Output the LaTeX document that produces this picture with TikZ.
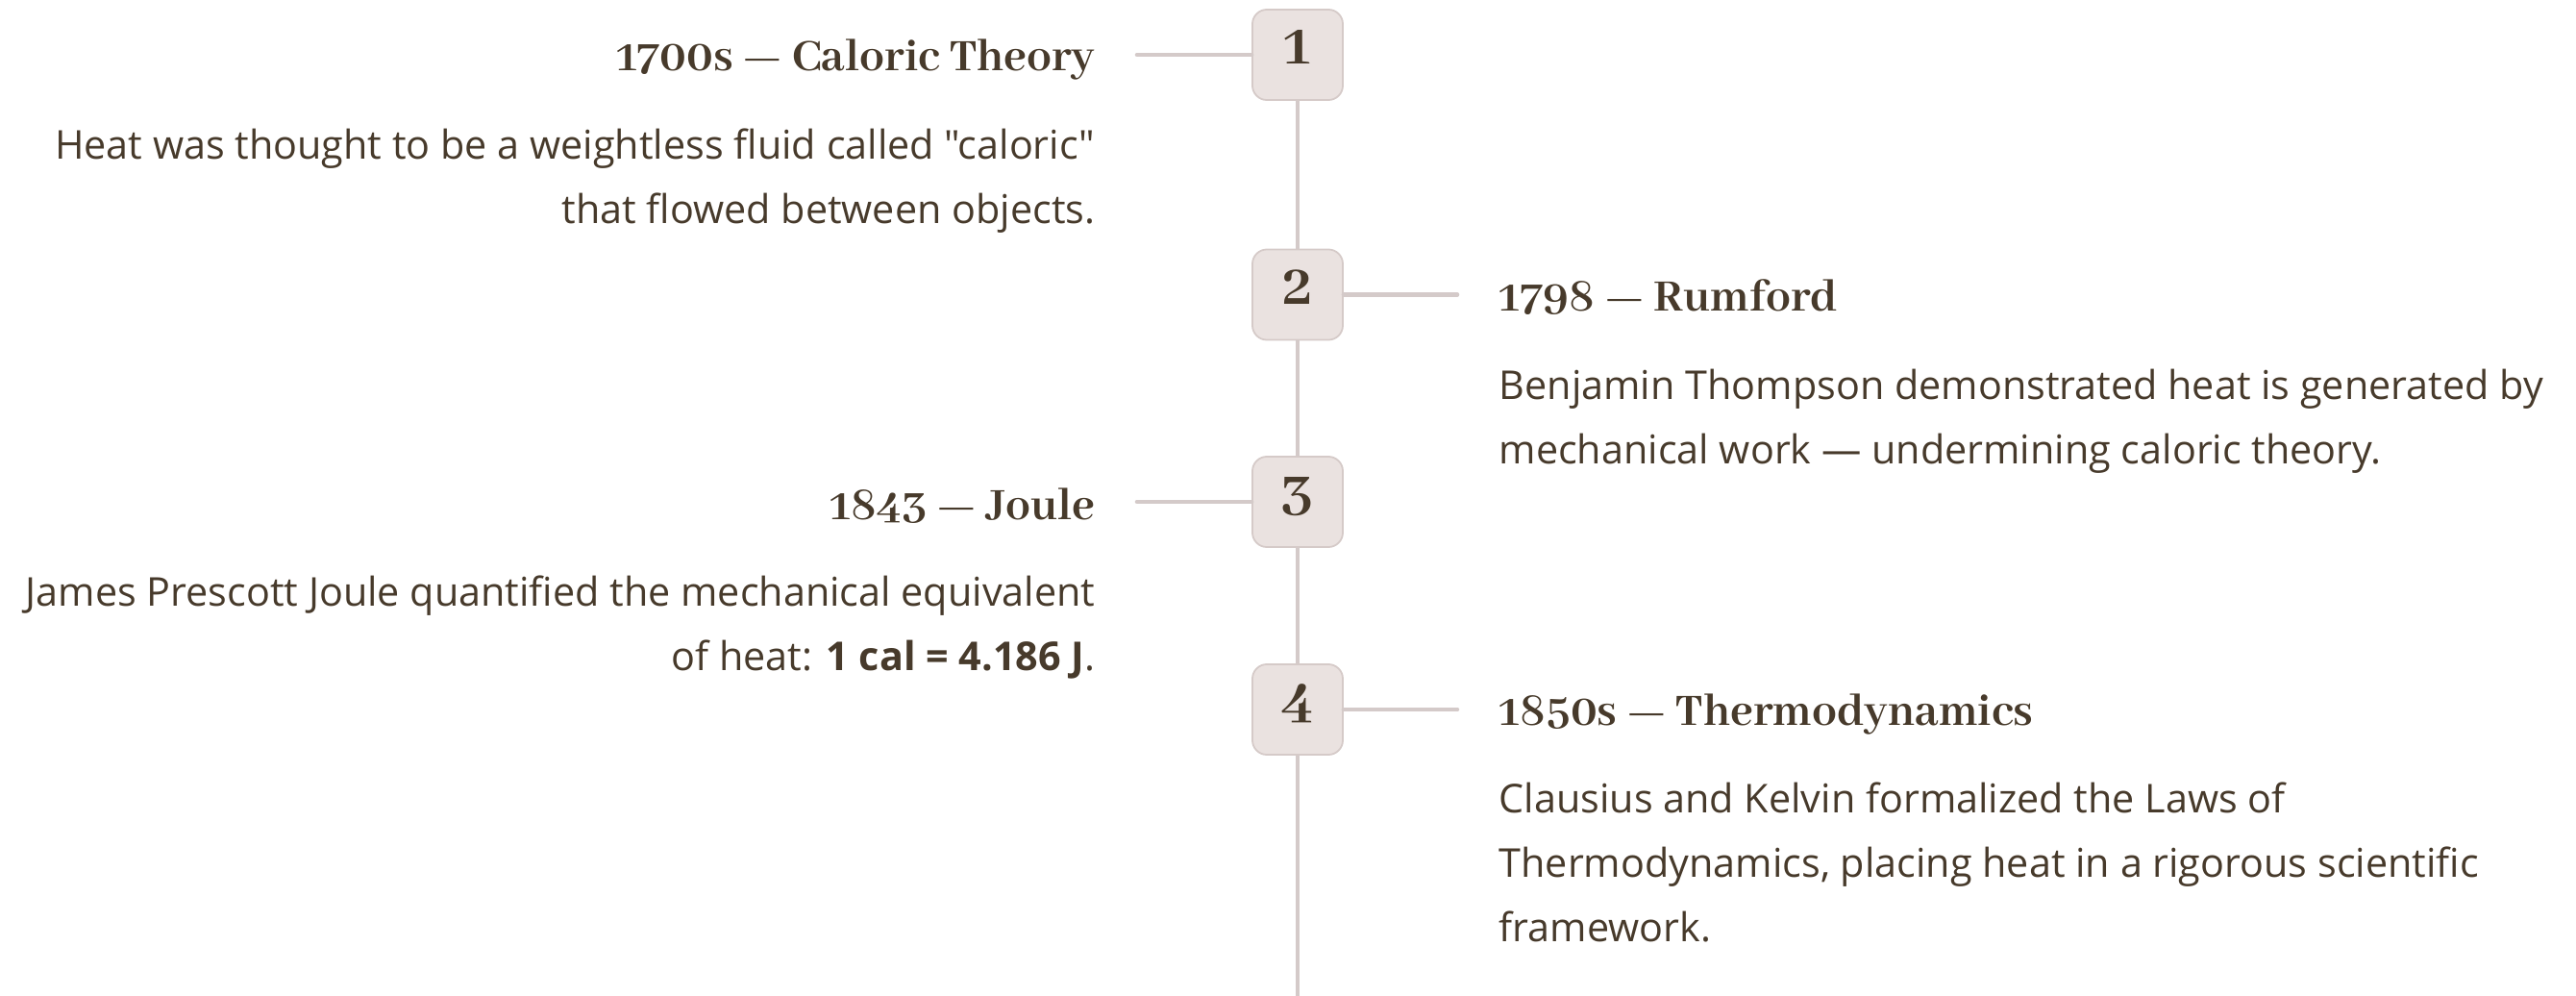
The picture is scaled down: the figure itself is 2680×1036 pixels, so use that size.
\documentclass[tikz,border=0pt]{standalone}
\usepackage{fontspec}
\setmainfont{Open Sans}[Ligatures=TeXOff]
\IfFontExistsTF{Abhaya Libre Bold}
  {\newfontfamily\headfont{Abhaya Libre Bold}[Numbers=Lining]}
  {\IfFontExistsTF{Abhaya Libre ExtraBold}
    {\newfontfamily\headfont{Abhaya Libre ExtraBold}[Numbers=Lining]}
    {\newfontfamily\headfont{Abhaya Libre}[Numbers=Lining, FakeBold=2]}}
\usetikzlibrary{positioning}
\definecolor{ink}{RGB}{71,58,43}
\definecolor{boxfill}{RGB}{234,226,224}
\definecolor{boxline}{RGB}{213,202,200}
\definecolor{rail}{RGB}{212,202,201}
\tikzset{
  numbox/.style={draw=boxline, fill=boxfill, line width=0.5pt, rounded corners=0.15cm,
    minimum size=0.94cm, inner sep=0pt, text=ink,
    font=\headfont\fontsize{19}{20}\selectfont, text height=8.5pt, text depth=3pt},
  heading/.style={text=ink, inner sep=0pt, font=\headfont\fontsize{14.6}{16}\selectfont},
  blurb/.style={text=ink, inner sep=0pt, font=\fontsize{11.75}{19}\selectfont},
  link/.style={draw=rail, line width=1.3pt, line cap=round},
  spine/.style={draw=rail, line width=1.3pt}
}
\begin{document}
\begin{tikzpicture}[x=0.01cm, y=-0.01cm]
  \useasboundingbox (0,0) rectangle (2680,1036);
  % step boxes on the spine
  \node[numbox] (n1) at (1350,57) {1};
  \node[numbox] (n2) at (1350,306.5) {2};
  \node[numbox] (n3) at (1350,522) {3};
  \node[numbox] (n4) at (1350,738) {4};
  \coordinate (tail) at (1350,1040);
  \draw[spine] (n1.south) -- (n2.north);
  \draw[spine] (n2.south) -- (n3.north);
  \draw[spine] (n3.south) -- (n4.north);
  \draw[spine] (n4.south) -- (tail);
  % left side (base = last line)
  \node[heading, anchor=base east] (h1) at (1140,73) {1700s — Caloric Theory};
  \node[blurb, align=right, anchor=base east] (b1) at (1140,232)
    {Heat was thought to be a weightless fluid called "caloric"\\that flowed between objects.};
  \node[heading, anchor=base east] (h3) at (1140,540) {1843 — Joule};
  \node[blurb, align=right, anchor=base east] (b3) at (1140,697)
    {James Prescott Joule quantified the mechanical equivalent\\of heat: \textbf{1 cal = 4.186 J}.};
  % right side
  \node[heading, anchor=base west] (h2) at (1559,323) {1798 — Rumford};
  \node[blurb, align=left, anchor=base west] (b2) at (1559,482)
    {Benjamin Thompson demonstrated heat is generated by\\mechanical work — undermining caloric theory.};
  \node[heading, anchor=base west] (h4) at (1559,754) {1850s — Thermodynamics};
  \node[blurb, align=left, anchor=base west] (b4) at (1559,979)
    {Clausius and Kelvin formalized the Laws of\\Thermodynamics, placing heat in a rigorous scientific\\framework.};
  % connectors
  \coordinate (c1) at (1183,57);
  \coordinate (c2) at (1516,306.5);
  \coordinate (c3) at (1183,522);
  \coordinate (c4) at (1516,738);
  \draw[link] (c1) -- (n1.west);
  \draw[link] (n2.east) -- (c2);
  \draw[link] (c3) -- (n3.west);
  \draw[link] (n4.east) -- (c4);
\end{tikzpicture}
\end{document}
